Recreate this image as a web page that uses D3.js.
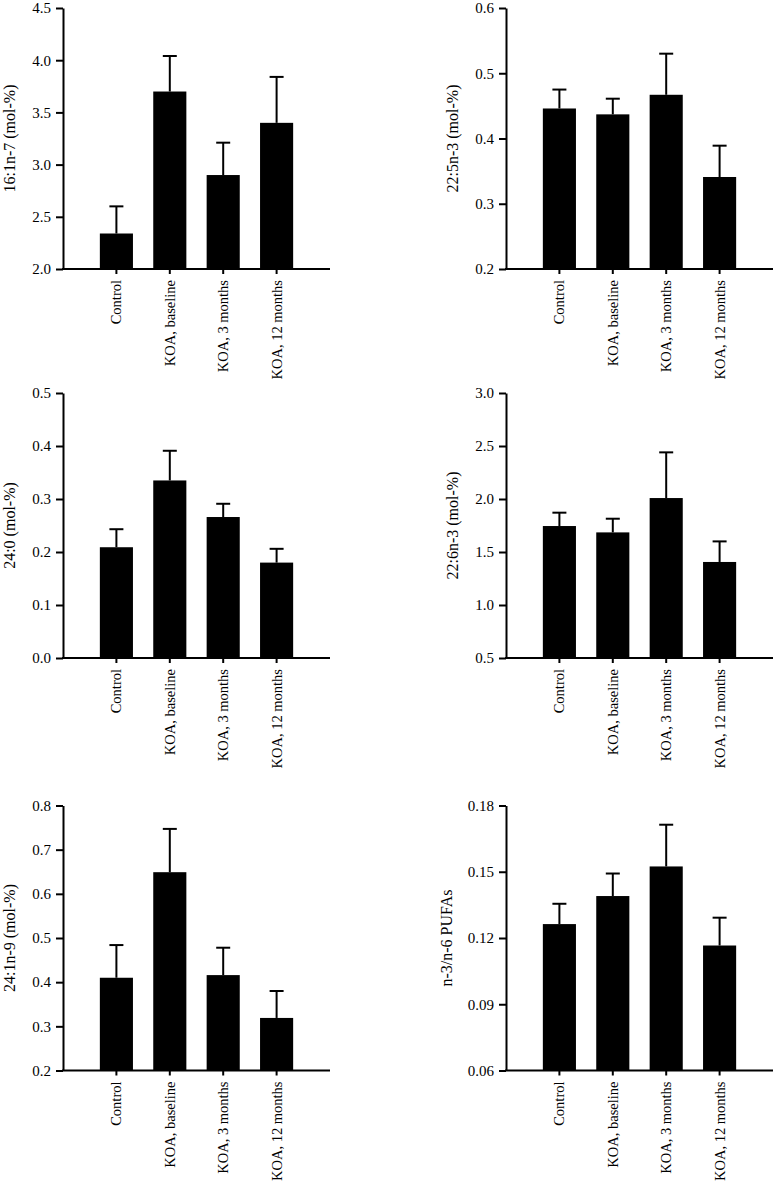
<!DOCTYPE html>
<html>
<head>
<meta charset="utf-8">
<script src="https://cdn.jsdelivr.net/npm/d3@7"></script>
<style>
  body { margin: 0; background: #fff; }
  svg text { font-family: "Liberation Serif", "Times New Roman", serif; fill: #000; }
</style>
</head>
<body>
<div id="chart"></div>
<script>
var categories = ["Control", "KOA, baseline", "KOA, 3 months", "KOA, 12 months"];

// means and upper error (SEM) for each panel
var fa161n7 = [2.34, 3.70, 2.90, 3.40];
var fa161n7Err = [0.26, 0.34, 0.31, 0.44];
var fa161n7Ticks = [2.0, 2.5, 3.0, 3.5, 4.0, 4.5];

var fa225n3 = [0.446, 0.437, 0.467, 0.341];
var fa225n3Err = [0.029, 0.024, 0.063, 0.048];
var fa225n3Ticks = [0.2, 0.3, 0.4, 0.5, 0.6];

var fa240 = [0.209, 0.335, 0.266, 0.180];
var fa240Err = [0.034, 0.056, 0.025, 0.026];
var fa240Ticks = [0.0, 0.1, 0.2, 0.3, 0.4, 0.5];

var fa226n3 = [1.745, 1.685, 2.009, 1.406];
var fa226n3Err = [0.126, 0.129, 0.431, 0.194];
var fa226n3Ticks = [0.5, 1.0, 1.5, 2.0, 2.5, 3.0];

var fa241n9 = [0.410, 0.649, 0.416, 0.319];
var fa241n9Err = [0.074, 0.098, 0.062, 0.061];
var fa241n9Ticks = [0.2, 0.3, 0.4, 0.5, 0.6, 0.7, 0.8];

var n3n6 = [0.1263, 0.1390, 0.1524, 0.1166];
var n3n6Err = [0.0092, 0.0102, 0.0189, 0.0126];
var n3n6Ticks = [0.06, 0.09, 0.12, 0.15, 0.18];

/********************************************************/

var svgWidth = 773;
var svgHeight = 1182;

var svg = d3.select("#chart")
    .append("svg")
    .attr("width", svgWidth)
    .attr("height", svgHeight);

var panels = [
    { label: "16:1n-7 (mol-%)", values: fa161n7, errs: fa161n7Err, ticks: fa161n7Ticks, fmt: ".1f", x: 63, y: 8, h: 261 },
    { label: "22:5n-3 (mol-%)", values: fa225n3, errs: fa225n3Err, ticks: fa225n3Ticks, fmt: ".1f", x: 506, y: 8, h: 261 },
    { label: "24:0 (mol-%)", values: fa240, errs: fa240Err, ticks: fa240Ticks, fmt: ".1f", x: 63, y: 393, h: 265 },
    { label: "22:6n-3 (mol-%)", values: fa226n3, errs: fa226n3Err, ticks: fa226n3Ticks, fmt: ".1f", x: 506, y: 393, h: 265 },
    { label: "24:1n-9 (mol-%)", values: fa241n9, errs: fa241n9Err, ticks: fa241n9Ticks, fmt: ".1f", x: 63, y: 805.5, h: 265 },
    { label: "n-3/n-6 PUFAs", values: n3n6, errs: n3n6Err, ticks: n3n6Ticks, fmt: ".2f", x: 506, y: 805.5, h: 265 }
];

var width = 267;
var step = width / 5;

panels.forEach(function (p) {
    var height = p.h;
    var g = svg.append("g")
        .attr("transform", `translate(${p.x}, ${p.y})`);

    var xScale = d3.scaleBand()
        .domain(categories)
        .range([step / 2, width - step / 2])
        .paddingInner(0.38)
        .paddingOuter(0.19);

    var yScale = d3.scaleLinear()
        .domain(d3.extent(p.ticks))
        .range([height, 0]);

    var data = categories.map(function (c, i) {
        return { cat: c, value: p.values[i], err: p.errs[i] };
    });

    // error bars (upper only)
    g.selectAll(".err")
        .data(data)
        .enter()
        .append("line")
        .attr("x1", d => xScale(d.cat) + xScale.bandwidth() / 2)
        .attr("x2", d => xScale(d.cat) + xScale.bandwidth() / 2)
        .attr("y1", d => yScale(d.value))
        .attr("y2", d => yScale(d.value + d.err))
        .attr("stroke", "#000")
        .attr("stroke-width", 2);

    g.selectAll(".cap")
        .data(data)
        .enter()
        .append("line")
        .attr("x1", d => xScale(d.cat) + xScale.bandwidth() / 2 - 7)
        .attr("x2", d => xScale(d.cat) + xScale.bandwidth() / 2 + 7)
        .attr("y1", d => yScale(d.value + d.err))
        .attr("y2", d => yScale(d.value + d.err))
        .attr("stroke", "#000")
        .attr("stroke-width", 2);

    g.selectAll("rect")
        .data(data)
        .enter()
        .append("rect")
        .attr("x", d => xScale(d.cat))
        .attr("width", xScale.bandwidth())
        .attr("y", d => yScale(d.value))
        .attr("height", d => height - yScale(d.value))
        .attr("fill", "#000");

    var leftAxis = d3.axisLeft(yScale)
        .tickValues(p.ticks)
        .tickFormat(d3.format(p.fmt))
        .tickSizeInner(7)
        .tickSizeOuter(0)
        .tickPadding(5);

    var bottomAxis = d3.axisBottom(xScale)
        .tickSizeInner(5)
        .tickSizeOuter(0)
        .tickPadding(7);

    var ya = g.append("g").call(leftAxis);
    ya.select(".domain").attr("stroke-width", 2);
    ya.selectAll(".tick line").attr("stroke-width", 2);
    ya.selectAll("text").attr("font-size", 15).style("font-family", "Liberation Serif");

    var xa = g.append("g")
        .attr("transform", `translate(0, ${height})`)
        .call(bottomAxis);
    xa.select(".domain")
        .attr("d", `M${-1},0H${width}`)
        .attr("stroke-width", 2);
    xa.selectAll(".tick line").attr("stroke-width", 2);
    xa.selectAll("text")
        .attr("font-size", 14.5)
        .style("font-family", "Liberation Serif")
        .attr("text-anchor", "end")
        .attr("transform", "rotate(-90)")
        .attr("x", -11)
        .attr("y", 0)
        .attr("dy", "0.35em");

    g.append("text")
        .attr("transform", "rotate(-90)")
        .attr("x", -height / 2)
        .attr("y", p.label === "n-3/n-6 PUFAs" ? -60 : -54)
        .attr("dy", "0.35em")
        .attr("text-anchor", "middle")
        .attr("font-size", 16)
        .text(p.label);
});
</script>
</body>
</html>
